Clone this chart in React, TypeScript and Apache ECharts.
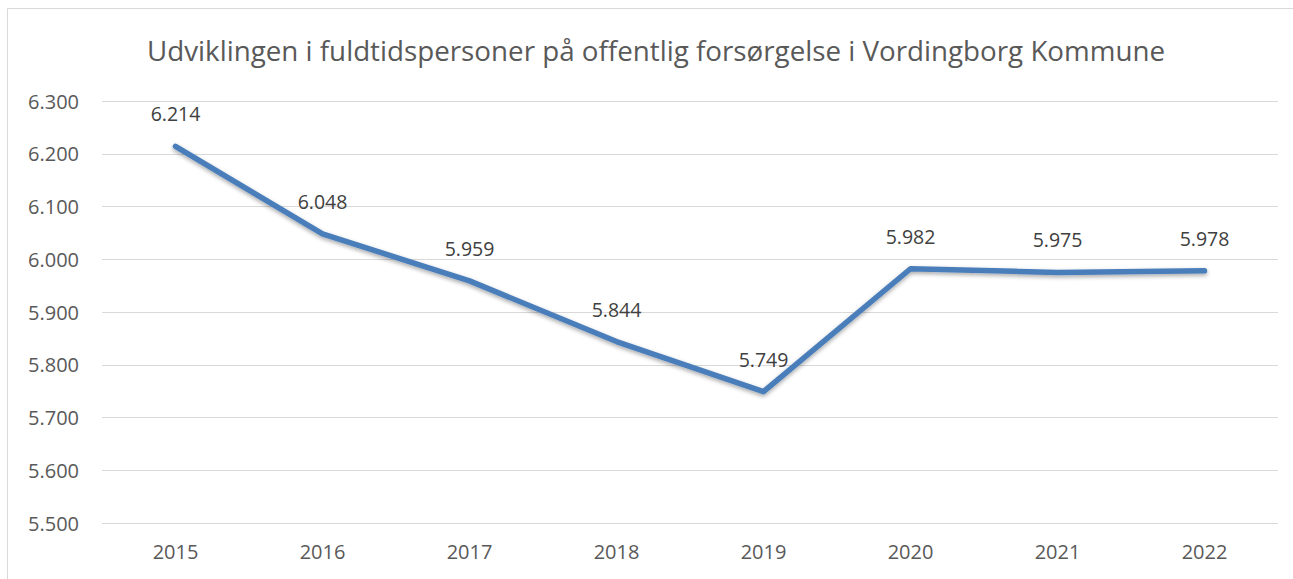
import React, { useEffect, useRef } from "react";
import * as echarts from "echarts";

const titleText = "Udviklingen i fuldtidspersoner på offentlig forsørgelse i Vordingborg Kommune";
const years = ["2015", "2016", "2017", "2018", "2019", "2020", "2021", "2022"];
const values = [6214, 6048, 5959, 5844, 5749, 5982, 5975, 5978];
const yMin = 5500;
const yMax = 6300;
const yStep = 100;

const fmt = (v: number) => {
  const s = Math.round(v).toString();
  return s.replace(/\B(?=(\d{3})+(?!\d))/g, ".");
};

export default function App() {
  const ref = useRef<HTMLDivElement>(null);
  useEffect(() => {
    document.body.style.margin = "0";
    const chart = echarts.init(ref.current!, null, { renderer: "svg" });
    const font = "'Open Sans', sans-serif";
    chart.setOption({
      animation: false,
      backgroundColor: "#ffffff",
      title: {
        text: titleText,
        left: 142,
        top: 31,
        textStyle: { fontFamily: font, fontSize: 27.75, fontWeight: "normal", color: "#595959" },
      },
      graphic: [
        {
          type: "rect",
          shape: { x: 7.5, y: 8.5, width: 1400, height: 700 },
          style: { fill: "none", stroke: "#d9d9d9", lineWidth: 1 },
          silent: true,
        },
      ],
      grid: { left: 102, right: 15, top: 101, bottom: 56, containLabel: false },
      xAxis: {
        type: "category",
        data: years,
        boundaryGap: true,
        axisLine: { show: false },
        axisTick: { show: false },
        axisLabel: { color: "#595959", fontSize: 20, fontFamily: font, margin: 18 },
      },
      yAxis: {
        type: "value",
        min: yMin,
        max: yMax,
        interval: yStep,
        axisLine: { show: false },
        axisTick: { show: false },
        splitLine: { lineStyle: { color: "#d9d9d9", width: 1 } },
        axisLabel: { color: "#595959", fontSize: 20, fontFamily: font, margin: 23, formatter: (v: number) => fmt(v) },
      },
      series: [
        {
          type: "line",
          data: values,
          symbol: "circle",
          symbolSize: 1,
          itemStyle: { color: "#4a7ebb" },
          lineStyle: {
            color: "#4a7ebb",
            width: 5.5,
            cap: "round",
            join: "round",
            shadowColor: "rgba(0,0,0,0.35)",
            shadowBlur: 4,
            shadowOffsetY: 2,
          },
          label: {
            show: true,
            position: "top",
            distance: 22,
            color: "#404040",
            fontSize: 19.5,
            fontFamily: font,
            formatter: (p: any) => fmt(p.value),
          },
        },
      ],
    });
    return () => chart.dispose();
  }, []);
  return <div ref={ref} style={{ position: "absolute", left: 0, top: 0, width: 1293, height: 579 }} />;
}
